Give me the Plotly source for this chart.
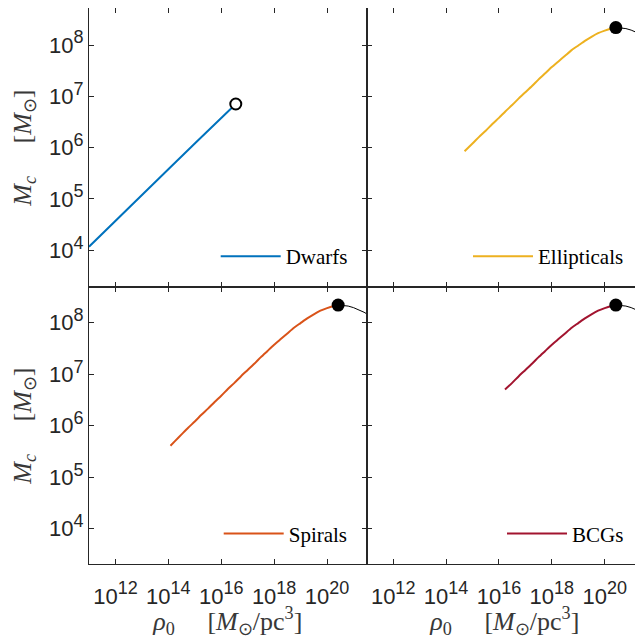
import numpy as np
import plotly.graph_objects as go

# ---- data (log10 values) ----
# x: log10 rho0 [Msun/pc^3], y: log10 Mc [Msun]
dwarfs_log_rho = [11.0, 12.0, 13.0, 14.0, 15.0, 16.0, 16.55]
dwarfs_log_mc = [4.07, 4.58, 5.08, 5.58, 6.08, 6.58, 6.85]

ellipticals_log_rho = [14.70, 15.0, 15.25, 15.5, 15.75, 16.0, 16.25, 16.5, 16.75, 17.0, 17.25, 17.5,
                       17.75, 18.0, 18.25, 18.5, 18.75, 19.0, 19.25, 19.5, 19.75, 20.0, 20.25, 20.42]
ellipticals_log_mc = [5.93, 6.08, 6.21, 6.33, 6.46, 6.58, 6.71, 6.83, 6.96, 7.08, 7.20, 7.33,
                      7.45, 7.57, 7.68, 7.79, 7.90, 7.99, 8.08, 8.16, 8.23, 8.28, 8.32, 8.34]

spirals_log_rho = [14.08, 14.25, 14.5, 14.75, 15.0, 15.25, 15.5, 15.75, 16.0, 16.25, 16.5, 16.75, 17.0,
                   17.25, 17.5, 17.75, 18.0, 18.25, 18.5, 18.75, 19.0, 19.25, 19.5, 19.75, 20.0, 20.25, 20.42]
spirals_log_mc = [5.61, 5.70, 5.83, 5.96, 6.08, 6.21, 6.33, 6.46, 6.58, 6.71, 6.83, 6.96, 7.08,
                  7.20, 7.33, 7.45, 7.57, 7.68, 7.79, 7.90, 7.99, 8.08, 8.16, 8.23, 8.28, 8.32, 8.34]

bcgs_log_rho = [16.23, 16.5, 16.75, 17.0, 17.25, 17.5, 17.75, 18.0, 18.25, 18.5, 18.75, 19.0,
                19.25, 19.5, 19.75, 20.0, 20.25, 20.42]
bcgs_log_mc = [6.70, 6.83, 6.96, 7.08, 7.20, 7.33, 7.45, 7.57, 7.68, 7.79, 7.90, 7.99,
               8.08, 8.16, 8.23, 8.28, 8.32, 8.34]

# continuation of the curve beyond the maximum (thin black)
tail_log_rho = [20.42, 20.6, 20.8, 21.0, 21.2, 21.4, 21.5]
tail_log_mc = [8.34, 8.335, 8.32, 8.29, 8.25, 8.20, 8.17]

peak_log_rho = [20.42]
peak_log_mc = [8.34]

x_tick_exps = [12, 14, 16, 18, 20]
y_tick_exps = [4, 5, 6, 7, 8]

series = [
    ("Dwarfs", dwarfs_log_rho, dwarfs_log_mc, "#0072BD"),
    ("Ellipticals", ellipticals_log_rho, ellipticals_log_mc, "#EDB120"),
    ("Spirals", spirals_log_rho, spirals_log_mc, "#D95319"),
    ("BCGs", bcgs_log_rho, bcgs_log_mc, "#A2142F"),
]

def p(v):
    return np.power(10.0, np.asarray(v, dtype=float))

def pow_label(e):
    return "10<sup><span style='font-size:18px'>%d</span></sup>" % e

OFF = 8.0  # page body margin
W, H = 643 - 8, 639 - 8
# panel geometry (pixels in the reference frame, shifted by body margin)
xl0, xl1, xr1 = 89.0 - OFF, 366.7 - OFF, 643.0 - OFF
yt0, ymid, yb1 = 8.3 - OFF, 287.0 - OFF, 564.3 - OFF

def fx(px):
    return px / W

def fy(py):
    return (H - py) / H

x_domains = [[fx(xl0), fx(xl1)], [fx(xl1), 1.0], [fx(xl0), fx(xl1)], [fx(xl1), 1.0]]
y_domains = [[fy(ymid), min(1.0, fy(yt0))], [fy(ymid), min(1.0, fy(yt0))], [fy(yb1), fy(ymid)], [fy(yb1), fy(ymid)]]
dec_px = (xl1 - xl0) / 10.5
x_ranges = [[11, 21.5], [11, 11 + (xr1 - xl1) / dec_px], [11, 21.5], [11, 11 + (xr1 - xl1) / dec_px]]
y_ranges = [[3.285, 8.715], [3.285, 8.715], [3.31, 8.69], [3.31, 8.69]]

fig = go.Figure()
axcol = "#262626"
tickfont = dict(family="Liberation Sans, Arial, sans-serif", size=22, color=axcol)
serif = "Liberation Serif, Times New Roman, serif"

for i, (name, lx, ly, col) in enumerate(series):
    k = "" if i == 0 else str(i + 1)
    xa, ya = "x" + k, "y" + k
    leg = "legend" + k
    if i == 0:
        fig.add_trace(go.Scatter(x=p(lx), y=p(ly), mode="lines", name=name,
                                 line=dict(color=col, width=2), xaxis=xa, yaxis=ya, legend=leg))
        fig.add_trace(go.Scatter(x=p(lx[-1:]), y=p(ly[-1:]), mode="markers", showlegend=False,
                                 marker=dict(symbol="circle", size=11, color="white",
                                             line=dict(color="black", width=2)),
                                 xaxis=xa, yaxis=ya, cliponaxis=False))
    else:
        fig.add_trace(go.Scatter(x=p(tail_log_rho), y=p(tail_log_mc), mode="lines", showlegend=False,
                                 line=dict(color="black", width=1), xaxis=xa, yaxis=ya))
        fig.add_trace(go.Scatter(x=p(lx), y=p(ly), mode="lines", name=name,
                                 line=dict(color=col, width=2, shape="spline", smoothing=0.6),
                                 xaxis=xa, yaxis=ya, legend=leg))
        fig.add_trace(go.Scatter(x=p(peak_log_rho), y=p(peak_log_mc), mode="markers", showlegend=False,
                                 marker=dict(symbol="circle", size=13, color="black"),
                                 xaxis=xa, yaxis=ya, cliponaxis=False))

layout = dict(width=W, height=H, margin=dict(l=0, r=0, t=0, b=0),
              paper_bgcolor="white", plot_bgcolor="white", template="none", showlegend=True)

ytitle = "<i>M</i><sub><i>c</i></sub>\u2003 [<i>M</i><sub>\u2299</sub>]"
xtitle = "<i>\u03c1</i><sub>0</sub>\u2003 [<i>M</i><sub>\u2299</sub>/pc<sup>3</sup>]"
titlefont = dict(family=serif, size=26, color="#383838")

for i in range(4):
    k = "" if i == 0 else str(i + 1)
    bottom = i >= 2
    left = i % 2 == 0
    xaxis = dict(type="log", domain=x_domains[i], range=x_ranges[i], anchor="y" + k,
                 tickvals=p(x_tick_exps), ticktext=[pow_label(e) for e in x_tick_exps],
                 showticklabels=bottom, ticks="inside", ticklen=5, tickwidth=1, tickcolor=axcol,
                 showline=True, linecolor=axcol, linewidth=1, mirror="ticks",
                 showgrid=False, zeroline=False, tickfont=tickfont, automargin=False,
                 ticklabelstandoff=12)
    yaxis = dict(type="log", domain=y_domains[i], range=y_ranges[i], anchor="x" + k,
                 tickvals=p(y_tick_exps), ticktext=[pow_label(e) for e in y_tick_exps],
                 showticklabels=left, ticks="inside", ticklen=5, tickwidth=1, tickcolor=axcol,
                 showline=True, linecolor=axcol, linewidth=1, mirror="ticks",
                 showgrid=False, zeroline=False, tickfont=tickfont, automargin=False,
                 ticklabelstandoff=0)
    if bottom:
        xaxis["title"] = dict(text=xtitle, font=titlefont, standoff=9)
    if left:
        yaxis["title"] = dict(text=ytitle, font=titlefont, standoff=15)
    layout["xaxis" + k] = xaxis
    layout["yaxis" + k] = yaxis
    layout["legend" + k] = dict(x=x_domains[i][1] - 14 / W, y=y_domains[i][0] + 10 / H,
                                xanchor="right", yanchor="bottom", bgcolor="rgba(0,0,0,0)",
                                borderwidth=0, itemwidth=60,
                                font=dict(family=serif, size=21, color="black"))

fig.update_layout(**layout)
fig.write_html("out.html")
